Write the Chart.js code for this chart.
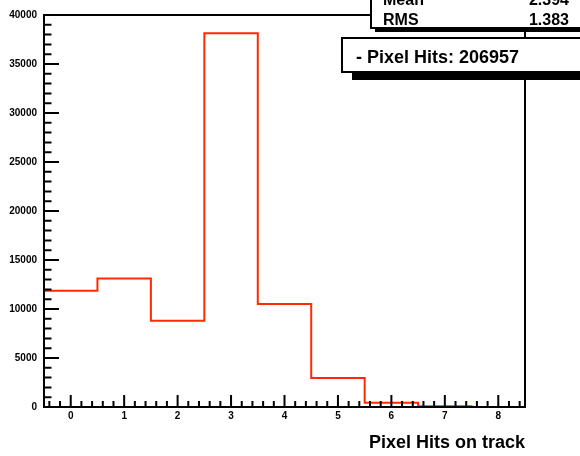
<!DOCTYPE html>
<html>
<head>
<meta charset="utf-8">
<script src="https://cdn.jsdelivr.net/npm/chart.js@4"></script>
<style>
  body { margin: 0; background: #fff; }
  canvas { display: block; }
</style>
</head>
<body>
<canvas id="c" width="580" height="456"></canvas>
<script>
// histogram data (bin centers and counts)
const binCenters = [0, 1, 2, 3, 4, 5, 6, 7, 8];
const hits = [11850, 13100, 8800, 38150, 10500, 2950, 440, 80, 0];
const xTickLabels = [0, 1, 2, 3, 4, 5, 6, 7, 8];
const yTickLabels = [0, 5000, 10000, 15000, 20000, 25000, 30000, 35000, 40000];
const statNames = ['Mean', 'RMS'];
const statValues = ['2.394', '1.383'];
const legendText = '- Pixel Hits: 206957';
const axisTitle = 'Pixel Hits on track';

const FONT = "'Liberation Sans', Arial, Helvetica, sans-serif";

// step points at the bin edges
const points = binCenters.map((c, i) => ({ x: c - 0.5, y: hits[i] }));
points.push({ x: binCenters[binCenters.length - 1] + 0.5, y: hits[hits.length - 1] });

const rootFrame = {
  id: 'rootFrame',
  afterDraw(chart) {
    const ctx = chart.ctx;
    const a = chart.chartArea;
    const xs = chart.scales.x, ys = chart.scales.y;
    ctx.save();
    ctx.strokeStyle = '#000';
    ctx.lineWidth = 2;
    ctx.strokeRect(a.left, a.top, a.right - a.left, a.bottom - a.top);

    // y ticks, minor every 1000
    ctx.beginPath();
    for (let v = 0; v <= 40000; v += 1000) {
      const py = ys.getPixelForValue(v);
      const len = v % 5000 === 0 ? 15 : 7.5;
      ctx.moveTo(a.left, py);
      ctx.lineTo(a.left + len, py);
    }
    // x ticks, minor every 0.2
    for (let k = -2; k <= 42; k++) {
      const px = xs.getPixelForValue(k * 0.2);
      const len = k % 5 === 0 ? 12 : 6;
      ctx.moveTo(px, a.bottom);
      ctx.lineTo(px, a.bottom - len);
    }
    ctx.stroke();

    // stats box
    ctx.fillStyle = '#000';
    ctx.fillRect(375, -10, 300, 42);
    ctx.fillStyle = '#fff';
    ctx.fillRect(371, -10, 300, 38);
    ctx.strokeRect(371, -10, 300, 38);
    ctx.fillStyle = '#000';
    ctx.font = 'bold 16px ' + FONT;
    ctx.textBaseline = 'alphabetic';
    statNames.forEach((n, i) => {
      const by = 5 + i * 20;
      ctx.textAlign = 'left';
      ctx.fillText(n, 383, by);
      ctx.textAlign = 'right';
      ctx.fillText(statValues[i], 569, by);
    });

    // legend box
    ctx.fillRect(352, 46, 300, 34);
    ctx.fillStyle = '#fff';
    ctx.fillRect(342, 38, 300, 34);
    ctx.strokeRect(342, 38, 300, 34);
    ctx.fillStyle = '#000';
    ctx.font = 'bold 18px ' + FONT;
    ctx.textAlign = 'left';
    ctx.fillText(legendText, 356, 63);
    ctx.restore();
  }
};

const tickFont = { family: FONT, weight: 'bold', size: 10 };

new Chart(document.getElementById('c').getContext('2d'), {
  type: 'line',
  data: {
    datasets: [{
      data: points,
      stepped: 'before',
      borderColor: '#ff2a00',
      borderWidth: 2,
      pointRadius: 0,
      fill: false
    }]
  },
  options: {
    responsive: false,
    animation: false,
    devicePixelRatio: 1,
    layout: { padding: { left: 0, top: 15, right: 55, bottom: 0 } },
    plugins: { legend: { display: false }, tooltip: { enabled: false } },
    scales: {
      x: {
        type: 'linear',
        min: -0.5,
        max: 8.5,
        grid: { display: false, drawTicks: false },
        border: { display: false },
        afterBuildTicks: s => { s.ticks = xTickLabels.map(v => ({ value: v })); },
        afterFit: s => { s.height = 49; },
        ticks: { font: tickFont, color: '#000', padding: 3, maxRotation: 0, autoSkip: false,
                 callback: v => String(v) },
        title: {
          display: true, text: axisTitle, align: 'end', color: '#000',
          font: { family: FONT, weight: 'bold', size: 18 },
          padding: { top: 0, bottom: 2 }
        }
      },
      y: {
        min: 0,
        max: 40000,
        grid: { display: false, drawTicks: false },
        border: { display: false },
        afterBuildTicks: s => { s.ticks = yTickLabels.map(v => ({ value: v })); },
        afterFit: s => { s.width = 44; },
        ticks: { font: tickFont, color: '#000', padding: 7, autoSkip: false,
                 callback: v => String(v) }
      }
    }
  },
  plugins: [rootFrame]
});
</script>
</body>
</html>
